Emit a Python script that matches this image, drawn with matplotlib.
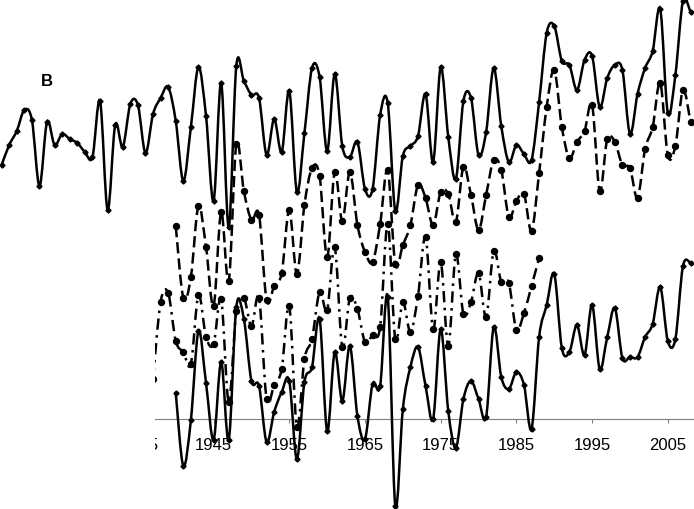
import matplotlib
matplotlib.use("Agg")
import matplotlib.pyplot as plt
import numpy as np
from matplotlib.path import Path
from matplotlib.patches import PathPatch

plt.rcParams['font.family'] = ['Liberation Sans', 'DejaVu Sans']

# heights above the x axis line (arbitrary units)
s1_start = 1917
s1 = [254, 274, 288, 309, 299, 233, 297, 274, 285, 280, 276, 267, 262, 318, 209, 294,
      272, 315, 314, 266, 305, 321, 332, 298, 238, 292, 352, 303, 218, 336, 192, 353,
      338, 324, 321, 264, 300, 267, 328, 227, 286, 351, 342, 268, 345, 273, 262, 277,
      230, 230, 304, 316, 208, 263, 273, 283, 325, 257, 352, 282, 240, 318, 321, 264,
      287, 351, 293, 257, 274, 265, 259, 317, 386, 393, 358, 354, 329, 359, 363, 312,
      341, 354, 349, 285, 325, 351, 368, 410, 306, 344, 418, 407]

s2_start = 1940
s2 = [193, 121, 142, 213, 172, 113, 207, 138, 275, 228, 199, 204, 119, 133, 146, 209,
      145, 214, 251, 243, 162, 247, 198, 247, 194, 167, 157, 195, 249, 155, 174, 194,
      234, 221, 194, 227, 225, 197, 252, 224, 189, 224, 259, 249, 202, 218, 225, 188,
      246, 312, 349, 292, 261, 277, 288, 314, 228, 280, 277, 254, 251, 221, 270, 292,
      336, 264, 273, 329, 297]

s3_start = 1937
s3 = [40, 117, 126, 78, 67, 55, 124, 82, 75, 120, 17, 108, 121, 93, 121, 20, 34, 50,
      113, -8, 60, 80, 127, 109, 172, 72, 121, 110, 77, 84, 92, 195, 80, 117, 87, 123,
      182, 90, 157, 73, 165, 105, 117, 146, 102, 168, 137, 136, 89, 106, 133, 161]

s4_start = 1940
s4 = [26, -47, -1, 88, 36, -21, 57, -21, 112, 100, 38, 33, -23, 7, 27, 38, -40, 37,
      52, 100, -12, 67, 18, 73, 3, -20, 35, 33, 122, -87, 10, 52, 72, 33, 0, 90, 8,
      -29, 20, 38, 20, 2, 92, 42, 30, 47, 34, -10, 82, 114, 145, 71, 67, 94, 64, 114,
      50, 82, 111, 61, 62, 62, 82, 95, 132, 78, 80, 153, 156]

tick_years = [1945, 1955, 1965, 1975, 1985, 1995, 2005]


def smooth(x, y):
    # excel style smoothed line: catmull-rom segments as cubic beziers
    p = np.column_stack([x, y]).astype(float)
    n = len(p)
    verts = [p[0]]
    codes = [Path.MOVETO]
    for i in range(n - 1):
        p0 = p[max(i - 1, 0)]
        p1 = p[i]
        p2 = p[i + 1]
        p3 = p[min(i + 2, n - 1)]
        verts += [p1 + (p2 - p0) / 6, p2 - (p3 - p1) / 6, p2]
        codes += [Path.CURVE4] * 3
    return Path(verts, codes)


def draw(ax, start, vals, ls, marker, ms, clip=True):
    x = np.arange(start, start + len(vals))
    y = np.array(vals)
    patch = PathPatch(smooth(x, y), fill=False, edgecolor='black', lw=1.8,
                      linestyle=ls, clip_on=clip, zorder=3)
    ax.add_patch(patch)
    ax.plot(x, y, linestyle='none', marker=marker, ms=ms, color='black',
            clip_on=clip, zorder=4)


fig = plt.figure(figsize=(6.94, 5.10), dpi=100)
ax = fig.add_axes([155 / 694, 0, 539 / 694, 1])
ax.set_xlim(1937.26, 2008.46)
ax.set_ylim(-90, 420)

draw(ax, s1_start, s1, '-', 'D', 2.6, clip=False)
draw(ax, s2_start, s2, (0, (4.5, 2)), 'o', 4.3)
draw(ax, s3_start, s3, (0, (4.5, 2.2, 1, 2.2)), 'o', 4.3)
draw(ax, s4_start, s4, '-', 'D', 2.6)

for side in ['top', 'right', 'left']:
    ax.spines[side].set_visible(False)
ax.spines['bottom'].set_position(('data', 0))
ax.spines['bottom'].set_color('#808080')
ax.spines['bottom'].set_linewidth(0.8)
ax.set_yticks([])
ax.set_xticks(tick_years)
ax.set_xticklabels([str(t) for t in tick_years])
ax.tick_params(axis='x', direction='out', length=3, width=0.8, color='#808080',
               labelsize=12, pad=10)
# first label is cut by the plot area
ax.text(1935.35, -18, '1935', ha='center', va='top', fontsize=12, clip_on=True)

fig.text(47 / 694, 1 - 82 / 510, 'B', ha='center', va='center', fontsize=12,
         fontweight='bold')

fig.savefig('out.png', dpi=100)
